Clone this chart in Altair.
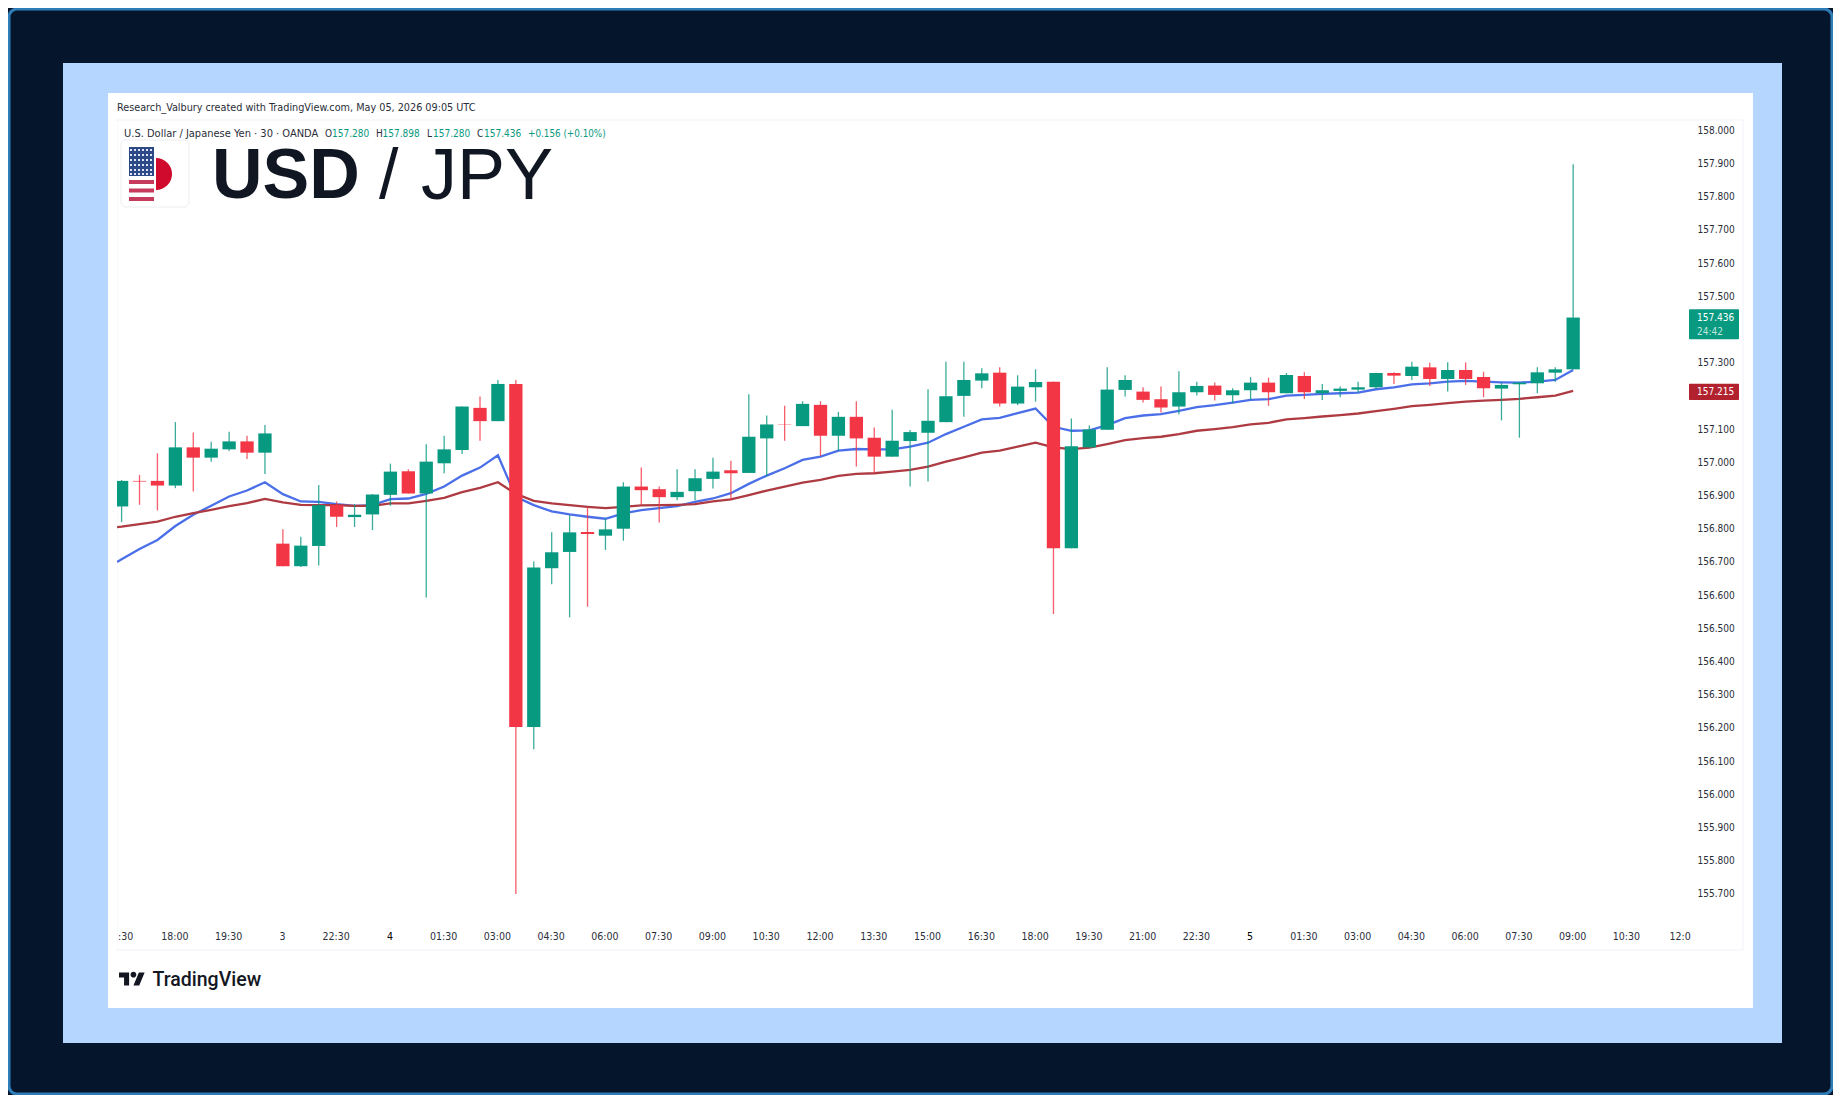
import altair as alt
import pandas as pd
import math

# ---- values ----
OPEN = [156.867,156.944,156.944,156.930,157.045,157.014,157.039,157.063,157.029,156.755,156.687,156.748,156.871,156.835,156.843,156.902,156.973,156.906,156.997,157.037,157.164,157.124,157.236,156.203,156.681,156.730,156.790,156.779,156.800,156.927,156.919,156.895,156.913,156.950,156.976,156.968,157.072,157.114,157.109,157.173,157.080,157.137,157.074,157.017,157.064,157.089,157.121,157.200,157.246,157.270,157.177,157.226,157.243,156.741,157.045,157.098,157.218,157.213,157.190,157.168,157.211,157.231,157.202,157.217,157.240,157.208,157.260,157.208,157.215,157.219,157.226,157.269,157.260,157.286,157.251,157.278,157.257,157.222,157.235,157.238,157.270,157.280]
CLOSE = [156.944,156.942,156.930,157.045,157.014,157.041,157.063,157.029,157.087,156.687,156.749,156.871,156.836,156.842,156.903,156.972,156.906,157.002,157.039,157.168,157.124,157.236,156.203,156.683,156.729,156.789,156.784,156.798,156.927,156.916,156.895,156.911,156.952,156.972,156.967,157.077,157.114,157.113,157.176,157.080,157.137,157.072,157.017,157.065,157.091,157.125,157.199,157.248,157.268,157.177,157.228,157.242,156.741,157.048,157.099,157.219,157.248,157.188,157.165,157.211,157.230,157.203,157.217,157.240,157.211,157.263,157.211,157.217,157.222,157.226,157.269,157.261,157.288,157.251,157.278,157.251,157.223,157.233,157.240,157.271,157.280,157.436]
HIGH = [156.947,156.962,157.027,157.121,157.090,157.062,157.092,157.080,157.112,156.798,156.776,156.932,156.882,156.874,156.904,156.996,156.979,157.054,157.080,157.168,157.198,157.248,157.248,156.701,156.789,156.841,156.866,156.831,156.940,156.984,156.927,156.979,156.979,157.014,157.005,157.205,157.141,157.170,157.184,157.184,157.152,157.184,157.105,157.158,157.097,157.220,157.303,157.303,157.283,157.286,157.262,157.280,157.243,157.132,157.111,157.286,157.262,157.226,157.228,157.274,157.243,157.240,157.223,157.257,157.255,157.269,157.271,157.236,157.228,157.243,157.269,157.271,157.303,157.300,157.301,157.301,157.273,157.240,157.242,157.286,157.286,157.898]
LOW = [156.820,156.872,156.855,156.922,156.912,157.002,157.034,157.010,156.965,156.687,156.685,156.689,156.805,156.805,156.796,156.869,156.906,156.593,156.967,157.025,157.065,157.124,155.700,156.136,156.633,156.533,156.565,156.736,156.764,156.871,156.819,156.886,156.886,156.921,156.888,156.968,156.959,157.065,157.109,157.019,157.035,156.987,156.967,157.017,156.927,156.942,157.121,157.137,157.223,157.168,157.172,157.183,156.543,156.741,157.045,157.098,157.198,157.180,157.150,157.145,157.201,157.186,157.178,157.188,157.170,157.208,157.191,157.188,157.196,157.210,157.220,157.236,157.248,157.230,157.213,157.233,157.196,157.126,157.074,157.208,157.243,157.280]
EMA_INDEX = [-0.25] + list(range(82))
EMA_FAST = [156.700,156.708,156.739,156.766,156.808,156.842,156.869,156.897,156.915,156.940,156.904,156.882,156.881,156.874,156.869,156.871,156.889,156.891,156.905,156.927,156.960,156.984,157.021,156.896,156.871,156.852,156.843,156.836,156.830,156.846,156.856,156.862,156.868,156.881,156.891,156.907,156.935,156.960,156.982,157.007,157.017,157.035,157.040,157.039,157.039,157.047,157.059,157.085,157.107,157.129,157.134,157.148,157.162,157.107,157.095,157.096,157.112,157.133,157.141,157.145,157.155,157.166,157.172,157.180,157.188,157.190,157.201,157.203,157.206,157.208,157.210,157.220,157.226,157.235,157.238,157.243,157.245,157.243,157.241,157.240,157.243,157.248,157.278]
EMA_SLOW = [156.805,156.806,156.814,156.821,156.836,156.847,156.857,156.868,156.877,156.890,156.879,156.872,156.871,156.871,156.869,156.869,156.876,156.876,156.884,156.893,156.910,156.923,156.940,156.905,156.884,156.876,156.871,156.866,156.862,156.866,156.870,156.871,156.872,156.874,156.882,156.888,156.901,156.915,156.927,156.939,156.947,156.959,156.965,156.967,156.972,156.977,156.987,157.002,157.015,157.029,157.035,157.047,157.059,157.045,157.040,157.044,157.055,157.067,157.073,157.077,157.085,157.095,157.100,157.106,157.114,157.119,157.129,157.133,157.138,157.142,157.147,157.154,157.161,157.169,157.173,157.178,157.183,157.186,157.188,157.191,157.196,157.201,157.215]
TIME_TICKS = [0.25] + list(range(3, 90, 3))
TIME_LABELS = [":30","18:00","19:30","3","22:30","4","01:30","03:00","04:30","06:00","07:30","09:00","10:30","12:00","13:30","15:00","16:30","18:00","19:30","21:00","22:30","5","01:30","03:00","04:30","06:00","07:30","09:00","10:30","12:0"]
PRICE_TICKS = [158.0,157.9,157.8,157.7,157.6,157.5,157.3,157.1,157.0,156.9,156.8,156.7,156.6,156.5,156.4,156.3,156.2,156.1,156.0,155.9,155.8,155.7]

UP, DOWN = "#089981", "#F23645"
W, H = 1825, 1087
FONT = "DejaVu Sans Condensed"
one = pd.DataFrame({"k": [0]})

def rect(x0, y0, x1, y1, color, **kw):
    return alt.Chart(one).mark_rect(color=color, **kw).encode(
        x=alt.value(x0 - 8), x2=alt.value(x1 - 8), y=alt.value(y0 - 8), y2=alt.value(y1 - 8))

def hline(x0, x1, y, color, width, **kw):
    return alt.Chart(one).mark_rule(color=color, strokeWidth=width, **kw).encode(
        x=alt.value(x0 - 8), x2=alt.value(x1 - 8), y=alt.value(y - 8))

def text(s, x, y, size=10, color="#131722", font=FONT, weight="normal", align="left"):
    return alt.Chart(pd.DataFrame({"t": [s]})).mark_text(
        font=font, fontSize=size, color=color, fontWeight=weight, align=align, baseline="middle"
    ).encode(x=alt.value(x - 8), y=alt.value(y - 8), text="t:N")

xs = alt.Scale(domain=[-6.339, 95.5], nice=False, zero=False, padding=0)
ys = alt.Scale(domain=[155.0943, 158.36837], nice=False, zero=False)

candles = pd.DataFrame({"i": list(range(82)), "o": OPEN, "c": CLOSE, "h": HIGH, "l": LOW})
candles["d"] = ["up" if c >= o else "down" for o, c in zip(OPEN, CLOSE)]
ema = pd.DataFrame({"i": EMA_INDEX, "fast": EMA_FAST, "slow": EMA_SLOW})
color = alt.Color("d:N", scale=alt.Scale(domain=["up", "down"], range=[UP, DOWN]), legend=None)

x_axis = alt.Axis(
    values=TIME_TICKS, orient="bottom", offset=928.5 - H, title=None, domain=False, ticks=False, grid=False,
    labelExpr="%s[round(datum.value/3)]" % str(TIME_LABELS),
    labelFont=FONT, labelFontSize=10.5, labelPadding=0, labelOverlap=False, labelOffset=-1,
    labelFlush=False, labelBound=False, labelAngle=0, zindex=1, labelBaseline="middle",
    labelColor={"condition": {"test": "datum.value == 15 || datum.value == 63", "value": "#000000"}, "value": "#2a2e39"},
)
y_axis = alt.Axis(
    values=PRICE_TICKS, orient="right", offset=1689 - W, title=None, domain=False, ticks=False, grid=False,
    format=".3f", labelFont=FONT, labelFontSize=10, labelColor="#2a2e39", labelPadding=0,
    labelOverlap=False, labelFlush=False, labelBound=False, zindex=1, labelAlign="left",
)
X = alt.X("i:Q", scale=xs, axis=x_axis)

line_fast = alt.Chart(ema).mark_line(color="#4a6fe8", strokeWidth=2.3).encode(
    x=X, y=alt.Y("fast:Q", scale=ys, axis=y_axis))
line_slow = alt.Chart(ema).mark_line(color="#AE3A42", strokeWidth=2.3).encode(
    x=X, y=alt.Y("slow:Q", scale=ys, axis=y_axis))
wicks = alt.Chart(candles).mark_rule(strokeWidth=1.3, opacity=0.8).encode(
    x=X, y=alt.Y("l:Q", scale=ys, axis=y_axis), y2="h:Q", color=color)
bodies = alt.Chart(candles).mark_bar(size=13.3).encode(
    x=X, y=alt.Y("o:Q", scale=ys, axis=y_axis), y2="c:Q", color=color)

layers = [
    alt.Chart(one).mark_rect(color="#04152c", stroke="#2f7db8", strokeWidth=3, cornerRadius=8).encode(
        x=alt.value(1), x2=alt.value(W - 1), y=alt.value(1), y2=alt.value(H - 1)),
    rect(63, 63, 1782, 1043, "#b5d6ff"),
    rect(108, 93, 1753, 1008, "#ffffff"),
    alt.Chart(one).mark_rect(fill="#ffffff", stroke="#f0f3fa", strokeWidth=1).encode(
        x=alt.value(117 - 8), x2=alt.value(1743 - 8), y=alt.value(120 - 8), y2=alt.value(950 - 8)),
    line_fast, line_slow, wicks, bodies,
    rect(109, 121, 117, 949, "#ffffff"),
    hline(117, 117.5, 120, "#f0f3fa", 1),
    # price boxes
    rect(1689, 309.3, 1739, 339.3, UP, cornerRadius=1),
    rect(1689, 383.7, 1739, 400, "#B2222E", cornerRadius=1),
    text("157.436", 1697, 318, color="#ffffff"),
    text("24:42", 1697, 331.5, color="#bfe6dd"),
    text("157.215", 1697, 392, color="#ffffff"),
    # header
    text("Research_Valbury created with TradingView.com, May 05, 2026 09:05 UTC", 117, 107.5, size=10.75, color="#2a2e39"),
    text("U.S. Dollar / Japanese Yen · 30 · OANDA", 124, 133.5, size=11, color="#2a2e39"),
    text("O", 325, 133.5, color="#2a2e39"), text("157.280", 332, 133.5, color=UP),
    text("H", 376, 133.5, color="#2a2e39"), text("157.898", 382.5, 133.5, color=UP),
    text("L", 427, 133.5, color="#2a2e39"), text("157.280", 433, 133.5, color=UP),
    text("C", 477, 133.5, color="#2a2e39"), text("157.436", 484, 133.5, color=UP),
    text("+0.156 (+0.10%)", 528, 133.5, size=9.8, color=UP),
    # symbol tile
    alt.Chart(one).mark_rect(fill="#ffffff", stroke="#ecedf1", strokeWidth=1, cornerRadius=5).encode(
        x=alt.value(121 - 8), x2=alt.value(189 - 8), y=alt.value(140 - 8), y2=alt.value(207 - 8)),
    alt.Chart(one).mark_arc(radius=16, theta=0, theta2=math.pi, color="#cf0a2c").encode(
        x=alt.value(156 - 8), y=alt.value(174 - 8)),
    rect(129, 147, 154, 176, "#2d4a88"),
]
for yy in (150, 155, 160, 165, 170, 174):
    layers.append(hline(130, 154, yy, "#dfe6f2", 2, strokeDash=[2, 2]))
for yy in (182, 190.5, 199):
    layers.append(hline(129, 154, yy, "#c63a5c", 4))
layers += [
    text("USD", 212, 177, size=70, font="Liberation Sans", weight="bold", color="#101722"),
    text("/", 379, 177, size=70, font="Liberation Sans", color="#101722"),
    text("JPY", 421, 177, size=72, font="Liberation Sans", color="#101722"),
    alt.Chart(one).mark_point(
        shape="M-0.222,0.5H-0.611V-0.111H-1V-0.5H-0.222ZM0.556,0.5H0.111L0.528,-0.5H0.972ZM-0.111,-0.333a0.222,0.222 0 1,0 0.444,0a0.222,0.222 0 1,0 -0.444,0Z",
        size=676, filled=True, color="#131722", opacity=1, strokeWidth=0,
    ).encode(x=alt.value(132 - 8), y=alt.value(979 - 8)),
    text("TradingView", 152.5, 979.5, size=19.5, font="Roboto", weight=500, color="#131722"),
]

chart = alt.layer(*layers).properties(
    width=W, height=H, padding=0, background="#04152c", autosize=alt.AutoSizeParams(type="none"),
).configure_view(strokeWidth=0)
chart.save("out.html", embed_options={"renderer": "svg", "actions": False})
